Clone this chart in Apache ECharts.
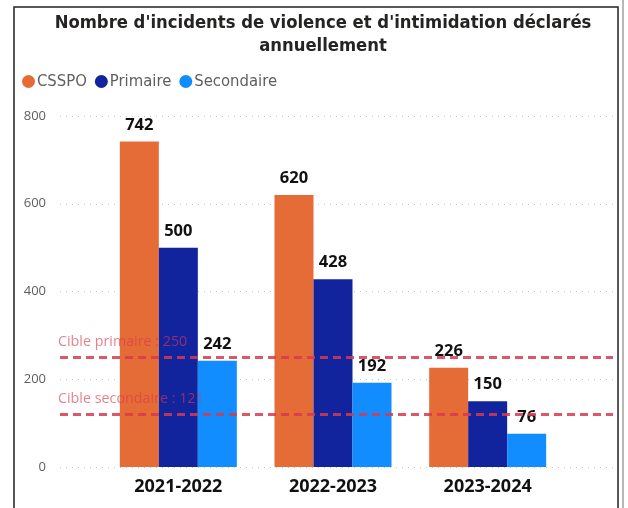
<!DOCTYPE html>
<html>
<head>
<meta charset="utf-8">
<script src="https://cdn.jsdelivr.net/npm/echarts@6/dist/echarts.min.js"></script>
<style>
  html, body { margin: 0; padding: 0; background: #fff; }
</style>
</head>
<body>
<!-- conteneur du graphique -->
<div id="chart" style="width: 628px; height: 508px;"></div>
<script>
const years = ['2021-2022', '2022-2023', '2023-2024']
const csspo = [742, 620, 226]
const primaire = [500, 428, 150]
const secondaire = [242, 192, 76]
const targetValues = [250, 121]
const targetLabels = ['Cible primaire : 250', 'Cible secondaire : 121']

const condensed = '"DejaVu Sans Condensed", "Liberation Sans Narrow", sans-serif'
const segoe = '"Open Sans", "Noto Sans", sans-serif'

const barLabel = {
  show: true,
  position: 'top',
  distance: 8,
  color: '#111',
  fontFamily: segoe,
  fontWeight: 'bold',
  fontSize: 16.5
}

function barSeries(name, data, color) {
  return {
    name: name,
    type: 'bar',
    xAxisIndex: 1,
    yAxisIndex: 1,
    barWidth: 39,
    barGap: '0%',
    itemStyle: { color: color },
    label: barLabel,
    data: data
  }
}

const myChart = echarts.init(document.getElementById('chart'))
const option = {
  animation: false,
  title: {
    text: "Nombre d'incidents de violence et d'intimidation déclarés\nannuellement",
    left: 318,
    top: 7,
    textAlign: 'center',
    textStyle: {
      fontFamily: condensed,
      fontWeight: 'bold',
      fontSize: 18.3,
      lineHeight: 23,
      color: '#252423'
    }
  },
  legend: {
    left: 17,
    top: 68,
    icon: 'circle',
    itemWidth: 13,
    itemHeight: 13,
    itemGap: 8,
    textStyle: { fontFamily: condensed, fontSize: 16.5, color: '#605E5C', padding: [0, 0, 0, -3] },
    data: ['CSSPO', 'Primaire', 'Secondaire']
  },
  grid: [
    // grille large pour les lignes pointillées et les cibles
    { left: 60, right: 15, top: 116, bottom: 41 },
    // grille des barres
    { left: 101, right: 63, top: 116, bottom: 41 }
  ],
  xAxis: [
    { gridIndex: 0, type: 'value', min: 0, max: 1, show: false },
    {
      gridIndex: 1,
      type: 'category',
      data: years,
      axisLine: { show: false },
      axisTick: { show: false },
      axisLabel: {
        margin: 11,
        color: '#111',
        fontFamily: segoe,
        fontWeight: 'bold',
        fontSize: 18
      }
    }
  ],
  yAxis: [
    {
      gridIndex: 0,
      type: 'value',
      min: 0,
      max: 800,
      interval: 200,
      axisLine: { show: false },
      axisTick: { show: false },
      axisLabel: { margin: 14, color: '#605E5C', fontFamily: segoe, fontSize: 13 },
      splitLine: { lineStyle: { color: '#c8c8c8', type: [1, 5], width: 1 } }
    },
    { gridIndex: 1, type: 'value', min: 0, max: 800, interval: 200, show: false, splitLine: { show: false } }
  ],
  series: [
    barSeries('CSSPO', csspo, '#E66C37'),
    barSeries('Primaire', primaire, '#12239E'),
    barSeries('Secondaire', secondaire, '#118DFF'),
    {
      name: 'cibles',
      type: 'line',
      xAxisIndex: 0,
      yAxisIndex: 0,
      z: 20,
      data: [],
      silent: true,
      markLine: {
        symbol: 'none',
        silent: true,
        z: 20,
        lineStyle: { color: '#D63A4E', width: 3, type: [8, 5], opacity: 0.85 },
        label: {
          position: 'insideStartTop',
          distance: [-2, 8],
          color: 'rgba(217, 57, 79, 0.75)',
          fontFamily: segoe,
          fontSize: 14.3
        },
        data: targetValues.map((v, i) => ({ yAxis: v, label: { formatter: targetLabels[i] } }))
      }
    }
  ],
  graphic: [
    {
      type: 'rect',
      shape: { x: 14, y: 7, width: 604, height: 520 },
      style: { fill: 'none', stroke: '#222', lineWidth: 1.5 },
      silent: true
    },
    {
      type: 'rect',
      shape: { x: 622, y: 0, width: 2, height: 508 },
      style: { fill: '#b8b8b8' },
      silent: true
    }
  ]
}
myChart.setOption(option)
</script>
</body>
</html>
